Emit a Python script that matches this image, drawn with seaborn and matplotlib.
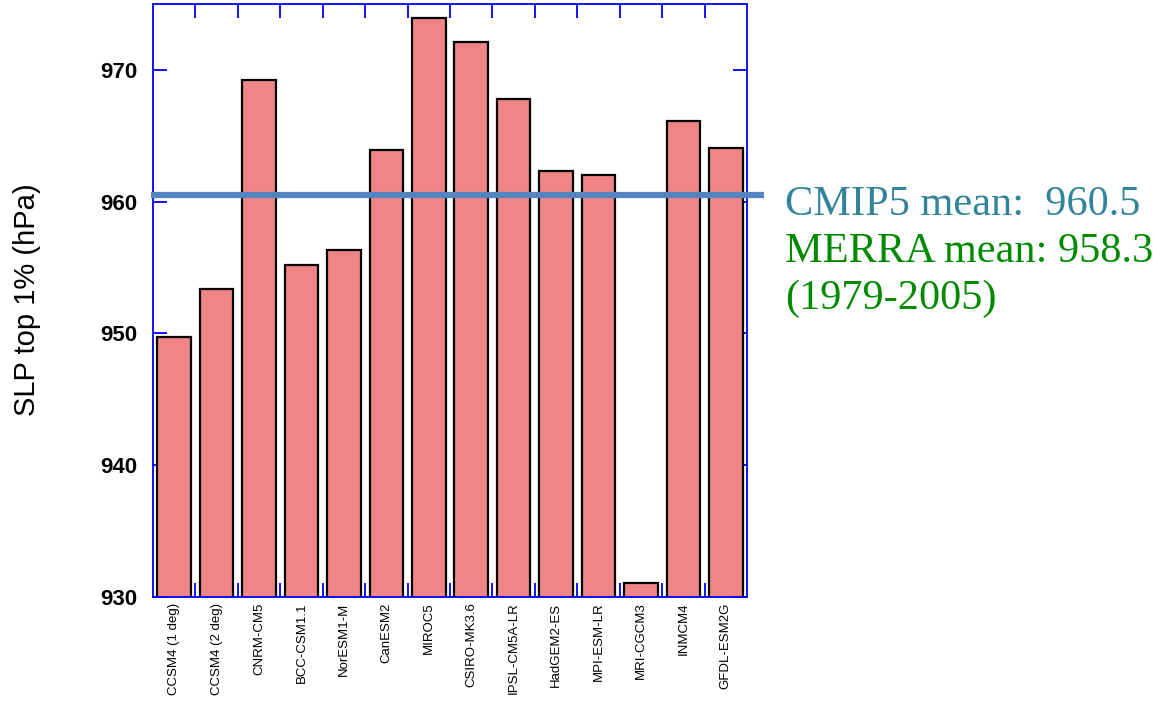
import matplotlib
matplotlib.use("Agg")
import matplotlib.pyplot as plt
from matplotlib.ticker import FixedLocator
import seaborn as sns
import pandas as pd

# data
models = ["CCSM4 (1 deg)", "CCSM4 (2 deg)", "CNRM-CM5", "BCC-CSM1.1", "NorESM1-M",
          "CanESM2", "MIROC5", "CSIRO-MK3.6", "IPSL-CM5A-LR", "HadGEM2-ES",
          "MPI-ESM-LR", "MRI-CGCM3", "INMCM4", "GFDL-ESM2G"]
slp_top1 = [949.7, 953.4, 969.2, 955.2, 956.3, 963.9, 973.9, 972.1, 967.8, 962.3,
            962.0, 931.1, 966.1, 964.1]
cmip5_mean = 960.5
merra_mean = 958.3
y_ticks = [930, 940, 950, 960, 970]

sns.set_theme(style="white")
plt.rcParams["font.family"] = ["Liberation Sans", "DejaVu Sans"]

df = pd.DataFrame({"model": models, "slp": slp_top1})

fig = plt.figure(figsize=(11.64, 7.09), dpi=100)
ax = fig.add_axes([153 / 1164, 1 - 597 / 709, 594 / 1164, 593 / 709])

sns.barplot(data=df, x="model", y="slp", order=models, color="#EF8585",
            saturation=1, width=0.79, edgecolor="black", linewidth=1.6, ax=ax)

ax.set_ylim(930, 975)
ax.set_xlim(-0.5, len(models) - 0.5)
ax.set_xlabel("")
ax.set_ylabel("")

# blue frame
for sp in ax.spines.values():
    sp.set_color("#0000FF")
    sp.set_linewidth(1.3)
    sp.set_visible(True)

ax.yaxis.set_major_locator(FixedLocator(y_ticks))
ax.tick_params(axis="y", which="major", direction="in", left=True, right=True,
               length=10, width=1.3, color="#0000FF", pad=11,
               labelsize=16, labelcolor="black")
for lab in ax.get_yticklabels():
    lab.set_fontweight("bold")

# x: labels at bar centres, tick marks between bars
ax.tick_params(axis="x", which="major", length=0, pad=4, labelsize=9.5,
               labelrotation=90, labelcolor="black")
ax.xaxis.set_minor_locator(FixedLocator([i + 0.5 for i in range(len(models) - 1)]))
ax.tick_params(axis="x", which="minor", direction="in", bottom=True, top=True,
               length=10, width=1.3, color="#0000FF")

# CMIP5 mean line, running past the right spine
ax.plot([-0.003, 1.029], [cmip5_mean, cmip5_mean], color="#5585C0", lw=4.5,
        transform=ax.get_yaxis_transform(), clip_on=False, solid_capstyle="butt",
        zorder=5)

fig.text(27 / 1164, 1 - 300 / 709, "SLP top 1% (hPa)", rotation=90,
         ha="center", va="center", fontsize=21, color="black")

serif = ["Liberation Serif", "DejaVu Serif"]
fig.text(785 / 1164, 1 - 215 / 709, f"CMIP5 mean:  {cmip5_mean}", family=serif,
         fontsize=30.5, color="#31849B", va="baseline", ha="left")
fig.text(785 / 1164, 1 - 262 / 709, f"MERRA mean: {merra_mean}", family=serif,
         fontsize=30.5, color="#008A00", va="baseline", ha="left")
fig.text(785 / 1164, 1 - 309 / 709, "(1979-2005)", family=serif,
         fontsize=30.5, color="#008A00", va="baseline", ha="left")

fig.savefig("out.png", dpi=100, facecolor="white")
